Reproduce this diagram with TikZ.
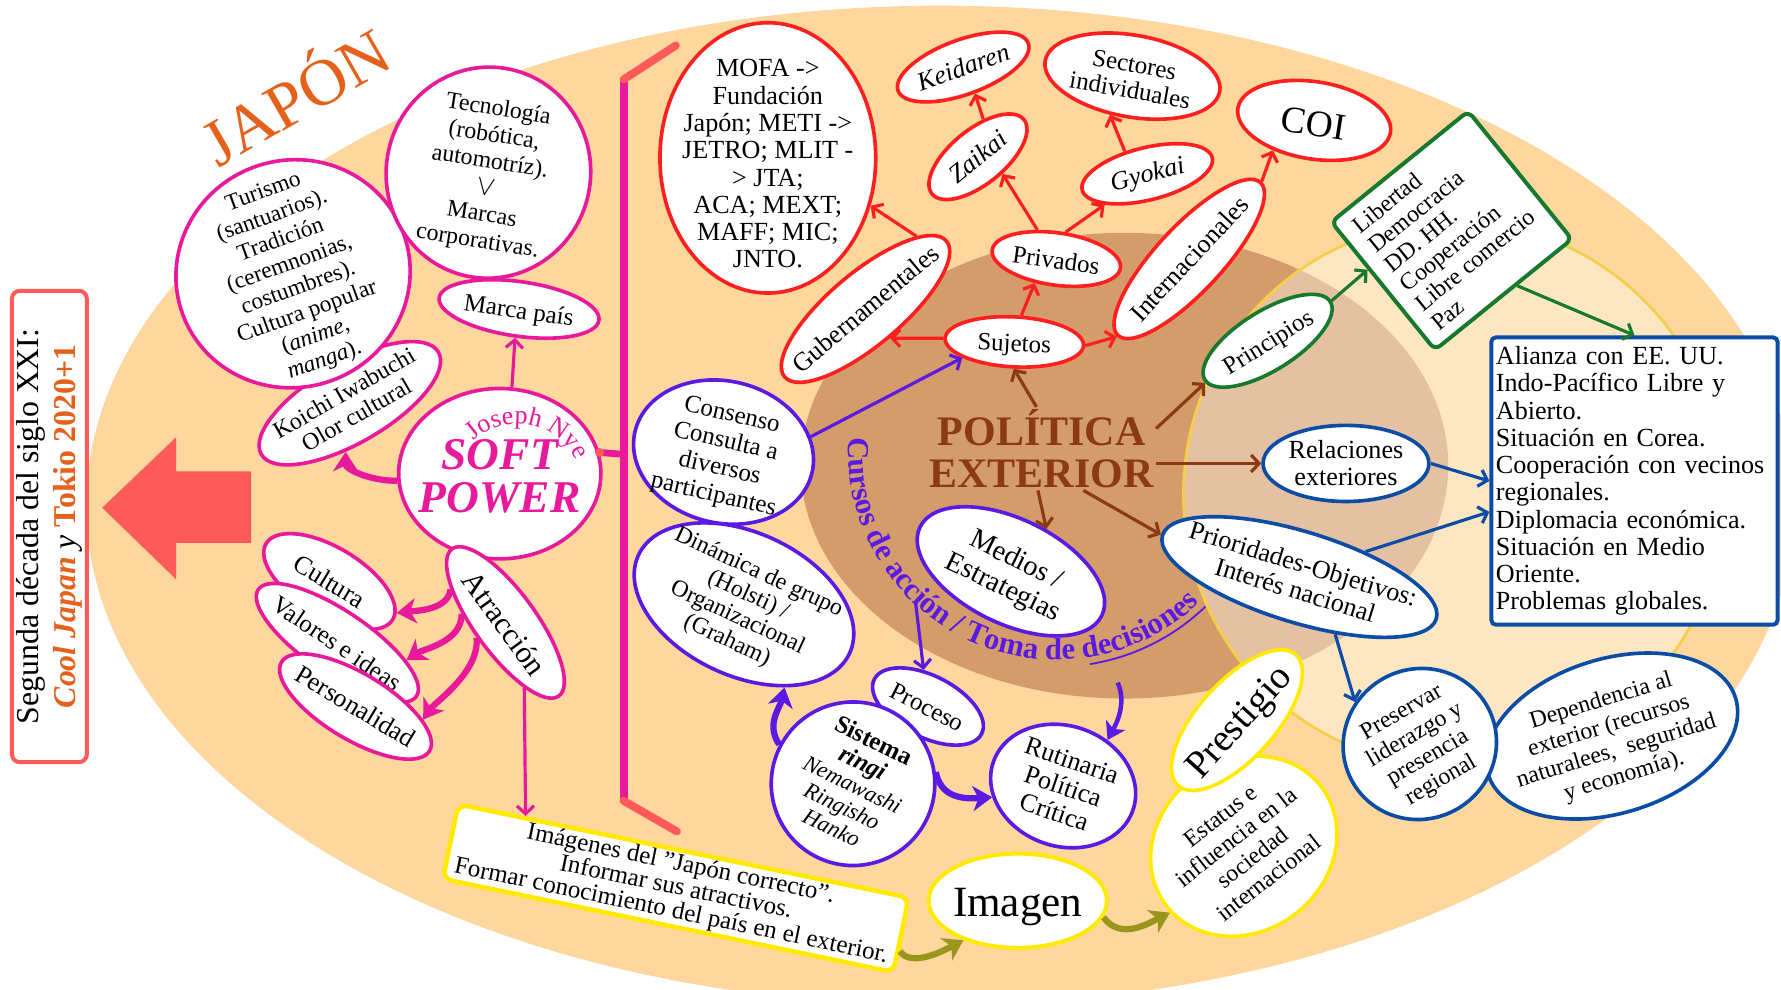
\documentclass[tikz,border=0pt]{standalone}
\usepackage{fontspec}
\setmainfont{Liberation Serif}
\usetikzlibrary{shapes.geometric,arrows.meta,decorations.text,calc}
\newcommand{\FS}[2]{\fontsize{#1pt}{#2pt}\selectfont}
\newcommand{\tx}[2][0pt]{\smash{\raisebox{\dimexpr-.4em-#1\relax}{\makebox[0pt]{\begin{tabular}{@{}c@{}}#2\end{tabular}}}}}
\definecolor{bgor}{HTML}{FDD79E}
\definecolor{brn}{HTML}{D49C6A}
\definecolor{pk}{HTML}{E8199B}
\definecolor{rd}{HTML}{FF1F1F}
\definecolor{sal}{HTML}{FF5A5A}
\definecolor{pu}{HTML}{5A1AE4}
\definecolor{bl}{HTML}{0B4DA6}
\definecolor{gr}{HTML}{17792E}
\definecolor{ye}{HTML}{FFEA00}
\definecolor{ol}{HTML}{9A961C}
\definecolor{ptxt}{HTML}{8B3A12}
\definecolor{jor}{HTML}{E5611A}
\definecolor{cy}{HTML}{F3CF4C}
\begin{document}
\begin{tikzpicture}[x=1pt,y=-1pt,
  el/.style={ellipse, draw, fill=white, line width=3.2pt, inner sep=0pt, font=\FS{22}{24}},
  ar/.style={line width=2.8pt, -{Straight Barb[length=7pt,width=15pt]}},
  bar/.style={line width=5.5pt, -{Stealth[length=17pt,width=22pt,inset=5pt]}},
  bar2/.style={line width=4pt, -{Stealth[length=15pt,width=19pt,inset=4pt]}},
]
\useasboundingbox (0,0) rectangle (1568,871);
% ---------- backgrounds
\fill[bgor] (828,445) ellipse [x radius=752, y radius=440];
\fill[brn] (990,410) ellipse [x radius=285, y radius=205];
\fill[white, fill opacity=0.38] (1280,435) ellipse [x radius=238, y radius=240];
\draw[cy, line width=2.5pt] (1280,435) ellipse [x radius=238, y radius=240];

% ---------- left
\node[draw=sal, line width=3.5pt, rounded corners=7pt, fill=white, rotate=90, minimum width=415pt, minimum height=66pt, align=center, inner sep=2pt, font=\FS{28}{32}] (title) at (43.5,463.5) {Segunda década del siglo XXI:\\{\color{jor}\bfseries\itshape Cool Japan} \textit{y} {\color{jor}\bfseries Tokio 2020+1}};
\fill[sal] (90,447) -- (155,385) -- (155,415) -- (221,415) -- (221,478) -- (155,478) -- (155,510) -- cycle;
\node[rotate=30, text=jor, font=\FS{58}{58}, inner sep=0pt] (jap) at (258,82) {JAPÓN};

\node[el, draw=pk, minimum width=180pt, minimum height=70pt, rotate=30, font=\FS{21}{22}] (koi) at (308,355) {\tx{Koichi Iwabuchi\\Olor cultural}};
\node[el, draw=pk, minimum width=207pt, minimum height=200pt, rotate=20, font=\FS{20.5}{22.5}] (tur) at (258,241) {\tx{Turismo\\(santuarios).\\Tradición\\(ceremnonias,\\costumbres).\\Cultura popular\\(\textit{anime},\\\textit{manga}).}};
\node[el, draw=pk, minimum width=180pt, minimum height=186pt, rotate=-9, font=\FS{21}{23.5}] (tec) at (430,152) {\tx{Tecnología\\(robótica,\\automotríz).\\{\FS{40}{22}$\vee$}\\Marcas\\corporativas.}};
\node[el, draw=pk, minimum width=142pt, minimum height=48pt, rotate=-8] (mar) at (457,272) {\tx{Marca país}};
\node[el, draw=pk, minimum width=178pt, minimum height=150pt, text=pk, font=\bfseries\itshape\FS{40}{37}] (sp) at (440,417) {\tx[-2pt]{SOFT\\POWER}};
\coordinate (nyec) at (456,430);
\path[decorate, decoration={text along path, text={|\FS{23}{23}|Joseph Nye}, text color=pk}] (nyec) ++(133:57pt) arc[start angle=133, end angle=-20, radius=57pt];

\node[el, draw=pk, minimum width=160pt, minimum height=54pt, rotate=-54, font=\FS{27}{27}] (atr) at (445,548) {\tx{Atracción}};
\node[el, draw=pk, minimum width=130pt, minimum height=60pt, rotate=-31, font=\FS{23}{23}] (cul) at (290,512) {\tx{Cultura}};
\node[el, draw=pk, minimum width=168pt, minimum height=56pt, rotate=-34, font=\FS{22}{22}] (val) at (297,566) {\tx{Valores e ideas}};
\node[el, draw=pk, minimum width=152pt, minimum height=58pt, rotate=-31, font=\FS{23}{23}] (per) at (313,622) {\tx{Personalidad}};

\node[draw=ye, line width=4pt, rounded corners=8pt, fill=white, rotate=-11.7, minimum width=405pt, minimum height=67pt, inner sep=0pt, align=center, font=\FS{22}{21}] (yb) at (595,782) {Imágenes del "Japón correcto".\\Informar sus atractivos.\\Formar conocimiento del país en el exterior.};

% ---------- bar
\coordinate (bt) at (549,70);
\coordinate (bb) at (549,705);
\coordinate (bts) at (595,40);
\coordinate (bbs) at (596,732);
\coordinate (bm) at (549,400);
\draw[pk, line width=7pt] (bt) -- (bb);
\draw[sal, line width=7pt, line cap=round] (bt) -- (bts);
\draw[sal, line width=7pt, line cap=round] (bb) -- (bbs);
\draw[pk, line width=6pt] (sp.12) -- (bm);
\fill[sal] (sp.12) circle (4);

% ---------- red group
\node[el, draw=rd, minimum width=190pt, minimum height=238pt, font=\FS{23}{24}] (mofa) at (676,139) {\tx[5pt]{MOFA ->\\Fundación\\Japón; METI ->\\JETRO; MLIT -\\> JTA;\\ACA; MEXT;\\MAFF; MIC;\\JNTO.}};
\node[el, draw=rd, minimum width=186pt, minimum height=64pt, rotate=40, font=\FS{23}{23}] (gub) at (762,272) {\tx{Gubernamentales}};
\node[el, draw=rd, minimum width=122pt, minimum height=44pt, rotate=-3] (suj) at (893,301) {\tx{Sujetos}};
\node[el, draw=rd, minimum width=114pt, minimum height=46pt, rotate=-8] (priv) at (930,228) {\tx{Privados}};
\node[el, draw=rd, minimum width=104pt, minimum height=48pt, rotate=39, font=\itshape\FS{23}{23}] (zai) at (861,138) {\tx{Zaikai}};
\node[el, draw=rd, minimum width=122pt, minimum height=48pt, rotate=20, font=\itshape\FS{23}{23}] (kei) at (848,59) {\tx{Keidaren}};
\node[el, draw=rd, minimum width=118pt, minimum height=46pt, rotate=14, font=\itshape\FS{23}{23}] (gyo) at (1010,153) {\tx{Gyokai}};
\node[el, draw=rd, minimum width=156pt, minimum height=72pt, rotate=-10, font=\FS{22}{23}] (sec) at (997,67) {\tx{Sectores\\individuales}};
\node[el, draw=rd, minimum width=136pt, minimum height=68pt, rotate=-9, font=\FS{33}{33}] (coi) at (1157,106) {\tx{COI}};
\node[el, draw=rd, minimum width=184pt, minimum height=58pt, rotate=47, font=\FS{23}{23}] (int) at (1047,228) {\tx{Internacionales}};

% ---------- center
\node[text=ptxt, font=\bfseries\FS{37}{37}, align=center, inner sep=2pt] (pe) at (917,395) {POLÍTICA\\EXTERIOR};
\node[el, draw=gr, minimum width=130pt, minimum height=52pt, rotate=32] (princ) at (1116,300) {\tx{Principios}};
\node[draw=gr, line width=3.5pt, rounded corners=6pt, fill=white, rotate=39, minimum width=155pt, minimum height=145pt, align=left, inner sep=0pt, font=\FS{21}{22}] (gb) at (1278,203) {Libertad\\Democracia\\DD. HH.\\Cooperación\\Libre comercio\\Paz};
\node[draw=bl, line width=3.5pt, rounded corners=4pt, fill=white, minimum width=252pt, minimum height=253pt, text width=244pt, align=left, inner sep=4pt, font=\FS{23}{24}] (ali) at (1439,423.5) {Alianza con EE. UU.\\Indo-Pacífico Libre y\\Abierto.\\Situación en Corea.\\Cooperación con vecinos\\regionales.\\Diplomacia económica.\\Situación en Medio\\Oriente.\\Problemas globales.};
\node[el, draw=bl, minimum width=146pt, minimum height=67pt, font=\FS{23}{24}] (rel) at (1185,408) {\tx{Relaciones\\exteriores}};
\node[el, draw=bl, minimum width=252pt, minimum height=80pt, rotate=-17, font=\FS{23}{24}] (prio) at (1144,508) {\tx{Prioridades-Objetivos:\\Interés nacional}};
\node[el, draw=bl, minimum width=228pt, minimum height=136pt, rotate=17, font=\FS{21}{23}] (dep) at (1419,648) {\tx{Dependencia al\\exterior (recursos\\naturalees,\ \ seguridad\\y economía).}};
\node[el, draw=bl, minimum width=136pt, minimum height=132pt, rotate=30, font=\FS{21}{23}] (pres) at (1250,655) {\tx{Preservar\\liderazgo y\\presencia\\regional}};

% ---------- purple
\node[el, draw=pu, minimum width=160pt, minimum height=125pt, rotate=-13, font=\FS{22}{24}] (con) at (637,398) {\tx{Consenso\\Consulta a\\diversos\\participantes}};
\node[el, draw=pu, minimum width=205pt, minimum height=126pt, rotate=-25, font=\FS{21}{22}] (din) at (655,532) {\tx{Dinámica de grupo\\(Holsti) /\\Organizacional\\(Graham)}};
\node[el, draw=pu, minimum width=178pt, minimum height=92pt, rotate=-26, font=\FS{25}{27}] (med) at (890,503) {\tx{Medios /\\Estrategias}};
\node[el, draw=pu, minimum width=106pt, minimum height=54pt, rotate=-27, font=\FS{22}{22}] (proc) at (817,622) {\tx{Proceso}};
\node[el, draw=pu, minimum width=144pt, minimum height=144pt, rotate=-26, font=\FS{20}{21}] (sis) at (751,690) {\tx{\textbf{\FS{22}{22}Sistema}\\\textbf{\textit{\FS{22}{22}ringi}}\\\textit{Nemawashi}\\\textit{Ringisho}\\\textit{Hanko}}};
\node[el, draw=pu, minimum width=130pt, minimum height=106pt, rotate=-19, font=\FS{23}{24}] (rut) at (936,692) {\tx{Rutinaria\\Política\\Crítica}};

\coordinate (cc) at (930,398);
\path[decorate, decoration={text along path, text={|\bfseries\FS{27}{27}|Cursos de acción /  Toma de decisiones}, text color=pu}] (cc) ++(176:183pt) arc[start angle=176, end angle=340, radius=183pt];
\draw[pu, line width=1.6pt] (cc) ++(279:189pt) arc[start angle=279, end angle=314, radius=189pt];

% ---------- yellow
\node[el, draw=ye, line width=3.5pt, minimum width=157pt, minimum height=83pt, font=\FS{38}{38}] (img) at (896,793) {\tx[-3pt]{Imagen}};
\node[el, draw=ye, minimum width=172pt, minimum height=150pt, rotate=38, font=\FS{21}{23}] (est) at (1095,745) {\tx{Estatus e\\influencia en la\\sociedad\\internacional}};
\node[el, draw=ye, minimum width=155pt, minimum height=68pt, rotate=48, font=\FS{34}{34}] (pre) at (1089,634) {\tx[-2pt]{Prestigio}};

% ---------- connectors: red
\draw[ar, rd] (suj.west) -- (gub.south);
\draw[ar, rd] (gub.15) -- (mofa.-25);
\draw[ar, rd] (suj.78) -- (priv.236);
\draw[ar, rd] (priv.131) -- (zai.-74);
\draw[ar, rd] (zai.43) -- (kei.-86);
\draw[ar, rd] (priv.79) -- (gyo.202);
\draw[ar, rd] (gyo.121) -- (sec.250);
\draw[ar, rd] (suj.east) -- (int.west);
\draw[ar, rd] (int.east) -- (coi.225);
% brown
\draw[ar, ptxt] (pe.97) -- (suj.-88);
\draw[ar, ptxt] (pe.10) -- (princ.182);
\draw[ar, ptxt] (pe.east |- rel.west) -- (rel.west);
\draw[ar, ptxt] (pe.-45) -- (prio.west);
\draw[ar, ptxt] (pe.-95) -- (med.76);
% green
\draw[ar, gr] (princ.east) -- (gb.166);
\draw[ar, gr] (gb.-79) -- (ali.north);
% blue
\draw[ar, bl] (rel.east) -- (ali.west);
\draw[ar, bl] (prio.38) -- (ali.192);
\draw[ar, bl] (prio.-41) -- (pres.117);
% purple
\draw[ar, pu] (con.23) -- (suj.200);
\coordinate (cur) at (806,530);
\draw[ar, pu] (cur) -- (proc);
\draw[bar, pu] (sis.178) .. controls +(-12,-18) and +(-4,18) .. (din.-39);
\draw[bar, pu] (sis.34) .. controls +(4,20) and +(-30,2) .. (rut.208);
\coordinate (brr) at (984,601);
\draw[bar2, pu] (brr) .. controls +(8,18) and +(8,-15) .. (rut.65);
% pink
\draw[bar, pk] (sp.184) .. controls +(-25,0) and +(0,15) .. (koi.235);
\draw[ar, pk] (sp.82) -- (mar.south);
\draw[bar, pk] (atr.203) .. controls +(-2,18) and +(18,-2) .. (cul.6);
\draw[bar, pk] (atr.223) .. controls +(0,25) and +(15,-10) .. (val.20);
\draw[bar, pk] (atr.262) .. controls +(3,30) and +(10,-15) .. (per.20);
\draw[ar, pk] (atr.-20) -- (yb.166);
% olive
\draw[bar, ol] (yb.-4) .. controls +(10,15) and +(-15,8) .. (img.216);
\draw[bar, ol] (img.-11) .. controls +(15,20) and +(-20,10) .. (est.184);
\end{tikzpicture}
\end{document}
